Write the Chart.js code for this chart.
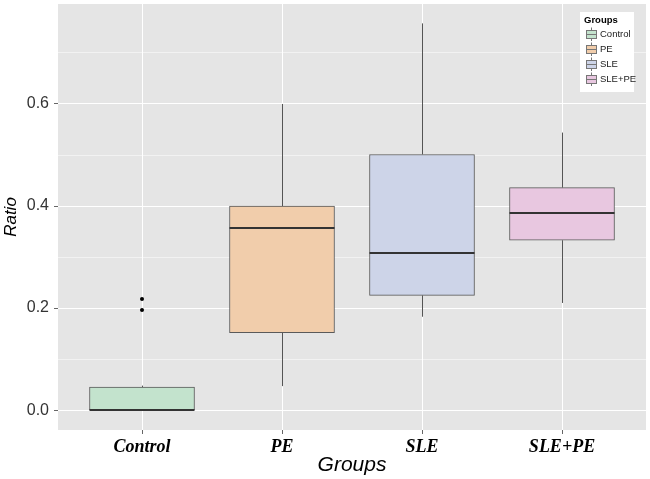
<!DOCTYPE html>
<html><head><meta charset="utf-8">
<script src="https://cdn.jsdelivr.net/npm/chart.js@4/dist/chart.umd.min.js"></script>
<style>html,body{margin:0;padding:0;background:#fff}#wrap{width:650px;height:479px;position:relative}</style>
</head><body><div id="wrap"><canvas id="c" width="650" height="479"></canvas></div>
<script>
// ---- data ----
const categories   = ['Control', 'PE', 'SLE', 'SLE+PE'];
const whiskerLow   = [0.000, 0.047, 0.183, 0.210];
const q1           = [0.000, 0.152, 0.225, 0.333];
const median       = [0.000, 0.356, 0.307, 0.387];
const q3           = [0.045, 0.400, 0.501, 0.436];
const whiskerHigh  = [0.048, 0.600, 0.758, 0.544];
const outlierGroup  = [0, 0];
const outlierValues = [0.218, 0.196];
const yTicks       = [0, 0.1, 0.2, 0.3, 0.4, 0.5, 0.6, 0.7];
const yLabelTicks  = [0, 0.2, 0.4, 0.6];
const legendTitle  = 'Groups';
// ---- styles ----
const fills = ['#C3E3CD', '#F1CDAB', '#CDD4E8', '#E8C7E0'];

const isLabelTick = v => yLabelTicks.some(t => Math.abs(t - v) < 1e-9);

const boxPlugin = {
  id: 'boxExtras',
  beforeDraw(chart) {
    const {ctx, chartArea: a} = chart;
    ctx.save();
    ctx.fillStyle = '#E5E5E5';
    ctx.fillRect(a.left, a.top, a.width, a.height);
    ctx.restore();
  },
  beforeDatasetsDraw(chart) {
    const {ctx} = chart;
    const xs = chart.scales.x, ys = chart.scales.y;
    ctx.save();
    ctx.strokeStyle = '#555';
    ctx.lineWidth = 1;
    categories.forEach((c, i) => {
      const x = Math.round(xs.getPixelForValue(i)) + 0.5;
      ctx.beginPath();
      ctx.moveTo(x, ys.getPixelForValue(whiskerHigh[i]));
      ctx.lineTo(x, ys.getPixelForValue(q3[i]));
      ctx.moveTo(x, ys.getPixelForValue(q1[i]));
      ctx.lineTo(x, ys.getPixelForValue(whiskerLow[i]));
      ctx.stroke();
    });
    ctx.restore();
  },
  afterDatasetsDraw(chart) {
    const {ctx} = chart;
    const ys = chart.scales.y;
    const meta = chart.getDatasetMeta(0);
    ctx.save();
    ctx.strokeStyle = '#333';
    ctx.lineWidth = 2;
    categories.forEach((c, i) => {
      const bar = meta.data[i];
      const y = Math.round(ys.getPixelForValue(median[i]));
      ctx.beginPath();
      ctx.moveTo(bar.x - bar.width / 2, y);
      ctx.lineTo(bar.x + bar.width / 2, y);
      ctx.stroke();
    });
    ctx.restore();
  },
  afterDraw(chart) {
    const {ctx, chartArea: a} = chart;
    const right = a.right - 12, top = a.top + 8;
    const left = right - 54;
    ctx.save();
    ctx.fillStyle = '#fff';
    ctx.fillRect(left, top, 54, 80);
    ctx.fillStyle = '#000';
    ctx.font = 'bold 9.5px "Liberation Sans", Arial, sans-serif';
    ctx.textBaseline = 'alphabetic';
    ctx.textAlign = 'left';
    ctx.fillText(legendTitle, left + 4, top + 11);
    categories.forEach((c, i) => {
      const cy = top + 22 + 15 * i;
      const gx = left + 6;
      ctx.fillStyle = fills[i];
      ctx.fillRect(gx, cy - 4, 11, 8);
      ctx.strokeStyle = '#777';
      ctx.lineWidth = 1;
      ctx.strokeRect(gx + 0.5, cy - 3.5, 10, 8);
      ctx.beginPath();
      ctx.moveTo(gx + 0.5, cy + 0.5); ctx.lineTo(gx + 10.5, cy + 0.5);
      ctx.moveTo(gx + 5.5, cy - 6.5); ctx.lineTo(gx + 5.5, cy - 3.5);
      ctx.moveTo(gx + 5.5, cy + 4.5); ctx.lineTo(gx + 5.5, cy + 7);
      ctx.stroke();
      ctx.fillStyle = '#222';
      ctx.font = '9.5px "Liberation Sans", Arial, sans-serif';
      ctx.textBaseline = 'middle';
      ctx.fillText(c, left + 20, cy + 0.5);
    });
    ctx.restore();
  }
};

new Chart(document.getElementById('c'), {
  type: 'bar',
  data: {
    datasets: [
      {
        label: 'Box',
        data: categories.map((c, i) => ({x: i, y: [q1[i], q3[i]]})),
        backgroundColor: fills,
        borderColor: '#5a5a5a',
        borderWidth: 1,
        borderSkipped: false,
        barThickness: 105
      },
      {
        type: 'scatter',
        label: 'Outliers',
        data: outlierGroup.map((g, i) => ({x: g, y: outlierValues[i]})),
        pointRadius: 2,
        pointBackgroundColor: '#000',
        pointBorderWidth: 0
      }
    ]
  },
  options: {
    animation: false,
    responsive: false,
    devicePixelRatio: 1,
    layout: {padding: {left: 0, right: 4, top: 4, bottom: 0}},
    plugins: {legend: {display: false}, tooltip: {enabled: false}},
    scales: {
      x: {
        type: 'linear', min: -0.6, max: 3.6, offset: false,
        afterBuildTicks: s => { s.ticks = categories.map((c, i) => ({value: i})); },
        afterFit: s => { s.height = 49; s.paddingLeft = 0; s.paddingRight = 0; },
        ticks: {
          callback: v => categories[v] ?? '',
          font: {family: '"Liberation Serif", "Times New Roman", serif', size: 18, style: 'italic', weight: 'bold'},
          color: '#000', padding: 3, maxRotation: 0, autoSkip: false
        },
        grid: {color: '#fff', lineWidth: 1, offset: false, drawTicks: true, tickLength: 4, tickColor: '#666'},
        border: {display: false},
        title: {display: true, text: 'Groups', color: '#000',
          font: {family: '"Liberation Sans", Arial, sans-serif', size: 21, style: 'italic'},
          padding: {top: 0, bottom: 1}}
      },
      y: {
        min: -0.039, max: 0.796,
        afterBuildTicks: s => { s.ticks = yTicks.map(v => ({value: v})); },
        afterFit: s => { s.width = 58; s.paddingTop = 0; s.paddingBottom = 0; },
        ticks: {
          callback: v => isLabelTick(v) ? v.toFixed(1) : '',
          font: {family: '"Liberation Sans", Arial, sans-serif', size: 16},
          color: '#333', padding: 5, autoSkip: false
        },
        grid: {
          color: c => isLabelTick(c.tick.value) ? '#fff' : 'rgba(255,255,255,0.5)',
          lineWidth: 1, drawTicks: true, tickLength: 4,
          tickColor: c => isLabelTick(c.tick.value) ? '#666' : 'rgba(0,0,0,0)'
        },
        border: {display: false},
        title: {display: true, text: 'Ratio', color: '#000',
          font: {family: '"Liberation Sans", Arial, sans-serif', size: 17, style: 'italic'},
          padding: {top: 1, bottom: 0}}
      }
    }
  },
  plugins: [boxPlugin]
});
</script>
</body></html>
